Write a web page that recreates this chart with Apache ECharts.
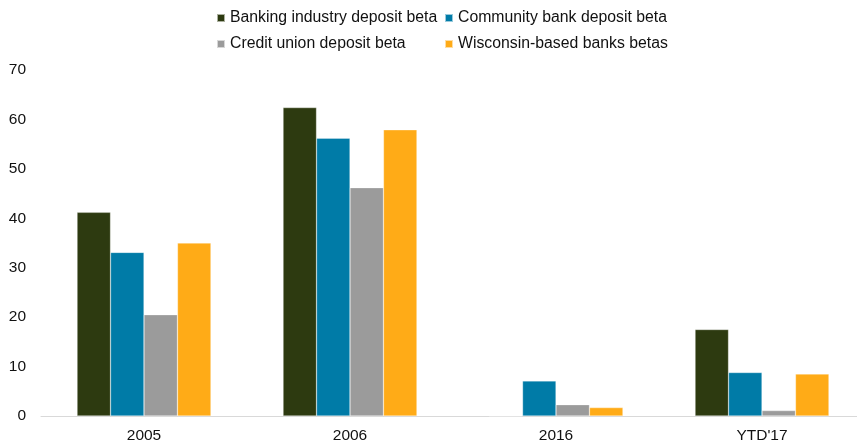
<!DOCTYPE html>
<html>
<head>
<meta charset="utf-8">
<script src="https://cdn.jsdelivr.net/npm/echarts@6/dist/echarts.min.js"></script>
<style>
  html, body { margin: 0; padding: 0; background: #fff; overflow: hidden; }
  /* the plot area runs a few pixels past the right edge of the view */
  #chart { width: 865px; height: 444px; }
</style>
</head>
<body>
<div id="chart"></div>
<script>
// Deposit betas by period
const categories = ['2005', '2006', '2016', "YTD'17"];
const bankingIndustry = [41.2, 62.4, 0, 17.5];
const communityBank = [33.1, 56.2, 7.1, 8.8];
const creditUnion = [20.5, 46.2, 2.3, 1.1];
const wisconsinBanks = [35.0, 57.9, 1.7, 8.5];
const yTicks = [0, 10, 20, 30, 40, 50, 60, 70];

const seriesNames = [
  'Banking industry deposit beta',
  'Community bank deposit beta',
  'Credit union deposit beta',
  'Wisconsin-based banks betas'
];
const seriesData = [bankingIndustry, communityBank, creditUnion, wisconsinBanks];
const colors = ['#2d3a10', '#007ba7', '#9b9b9b', '#ffab17'];

const fontFamily = '"Liberation Sans", Arial, Helvetica, sans-serif';
// two-column legend grid
const legendPos = [
  { left: 216, top: 10 },
  { left: 444, top: 10 },
  { left: 216, top: 36 },
  { left: 444, top: 36 }
];

const chart = echarts.init(document.getElementById('chart'), null, { renderer: 'canvas' });
chart.setOption({
  animation: false,
  color: colors,
  textStyle: { fontFamily: fontFamily },
  legend: seriesNames.map((name, i) => ({
    data: [name],
    left: legendPos[i].left,
    top: legendPos[i].top,
    padding: 0,
    itemWidth: 8,
    itemHeight: 8,
    itemGap: 5,
    icon: 'rect',
    textStyle: { fontFamily: fontFamily, fontSize: 15.8, color: '#111', padding: [0, 0, 0, 0] }
  })),
  grid: { left: 41, top: 70, right: 0, bottom: 27, containLabel: false },
  xAxis: {
    type: 'category',
    data: categories,
    axisLine: { lineStyle: { color: '#d9d9d9', width: 1 } },
    axisTick: { show: false },
    axisLabel: { color: '#111', fontSize: 15.5, margin: 12 }
  },
  yAxis: {
    type: 'value',
    min: yTicks[0],
    max: yTicks[yTicks.length - 1],
    interval: 10,
    splitLine: { show: false },
    axisLine: { show: false },
    axisTick: { show: false },
    axisLabel: { color: '#111', fontSize: 15.5, margin: 15 }
  },
  series: seriesNames.map((name, i) => ({
    name: name,
    type: 'bar',
    data: seriesData[i],
    barGap: '0%',
    barCategoryGap: '35%',
    itemStyle: { color: colors[i], borderColor: 'rgba(255,255,255,0.6)', borderWidth: 0.5 }
  }))
});
</script>
</body>
</html>
